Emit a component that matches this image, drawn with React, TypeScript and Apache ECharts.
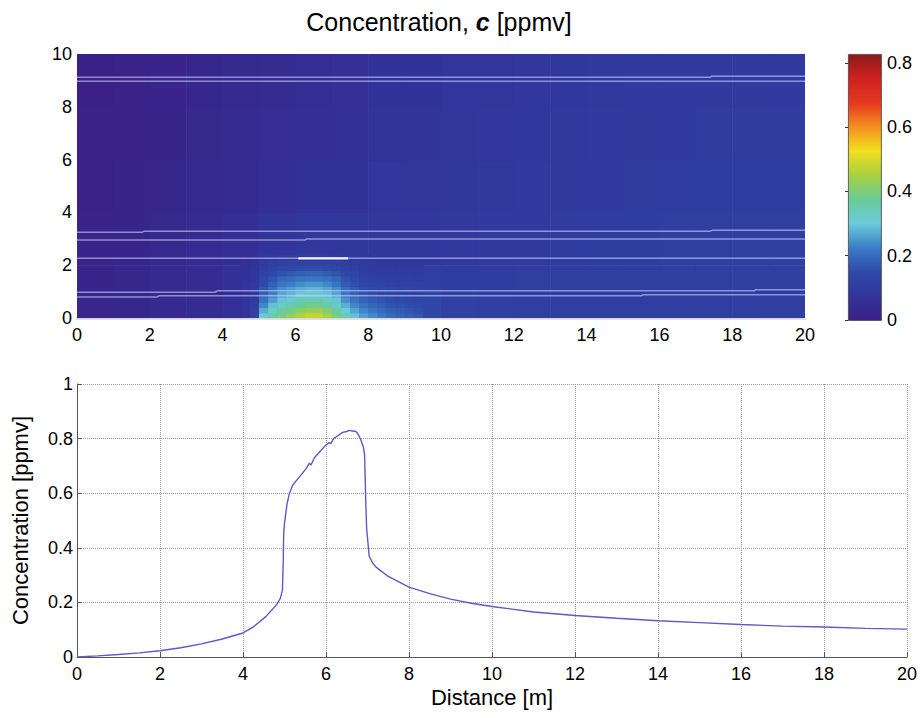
import React, { useEffect, useRef } from "react";
import * as echarts from "echarts";

const FONT = "'Liberation Sans', Arial, Helvetica, sans-serif";

// jet-like colormap (evenly spaced from 0 to CMAX)
const CMAX = 0.828;
const colormap = [
  "#3a2086", "#32349a", "#2e4aa8", "#3a7cc6", "#6ccada", "#68cc98",
  "#a8d040", "#f0e020", "#f39020", "#e43820", "#d02020", "#8c1a1a",
];
const colorbarTicks = [0, 0.2, 0.4, 0.6, 0.8];

// Background field (coarse cells): x edges and y edges, values [row][col]
const bgXEdges = [0, 1, 2, 3, 4, 5, 6, 7, 8, 9, 10, 11, 12, 13, 14, 15, 16, 17, 18, 19, 20];
const bgYEdges = [0, 1, 2, 4, 6, 8, 10];
const bgValues = [
  [0.022, 0.027, 0.034, 0.045, 0.065, 0.09, 0.1, 0.1, 0.1, 0.14, 0.12, 0.112, 0.11, 0.11, 0.11, 0.11, 0.11, 0.11, 0.11, 0.11],
  [0.02, 0.025, 0.032, 0.043, 0.062, 0.08, 0.09, 0.09, 0.1, 0.108, 0.105, 0.105, 0.108, 0.108, 0.11, 0.11, 0.11, 0.11, 0.11, 0.11],
  [0.015, 0.02, 0.03, 0.042, 0.055, 0.075, 0.085, 0.088, 0.088, 0.09, 0.093, 0.097, 0.1, 0.103, 0.105, 0.107, 0.108, 0.108, 0.11, 0.11],
  [0.01, 0.015, 0.025, 0.035, 0.045, 0.058, 0.066, 0.073, 0.078, 0.083, 0.088, 0.092, 0.095, 0.098, 0.1, 0.102, 0.104, 0.105, 0.106, 0.107],
  [0.006, 0.012, 0.02, 0.03, 0.04, 0.05, 0.058, 0.065, 0.07, 0.076, 0.082, 0.087, 0.09, 0.093, 0.096, 0.098, 0.1, 0.101, 0.102, 0.103],
  [0.003, 0.008, 0.016, 0.026, 0.036, 0.046, 0.054, 0.061, 0.067, 0.072, 0.078, 0.083, 0.087, 0.09, 0.093, 0.095, 0.097, 0.098, 0.099, 0.1],
];

// Plume near the source (fine cells)
const plumeXEdges = [4.5, 4.75, 5, 5.25, 5.5, 5.75, 6, 6.25, 6.5, 6.75, 7, 7.25, 7.5, 7.75, 8, 8.25, 8.5, 8.75, 9, 9.25, 9.5];
const plumeYEdges = [0, 0.2, 0.4, 0.6, 0.8, 1.0, 1.2, 1.4, 1.6, 1.8, 2.0, 2.2, 2.4];
const plumeValues = [
  [0.07, 0.13, 0.3, 0.36, 0.4, 0.43, 0.46, 0.48, 0.48, 0.45, 0.4, 0.34, 0.29, 0.26, 0.24, 0.22, 0.2, 0.19, 0.18, 0.17],
  [0.07, 0.12, 0.27, 0.325, 0.363, 0.389, 0.416, 0.433, 0.433, 0.407, 0.363, 0.308, 0.264, 0.235, 0.218, 0.2, 0.184, 0.175, 0.167, 0.158],
  [0.07, 0.11, 0.237, 0.29, 0.326, 0.348, 0.371, 0.386, 0.386, 0.364, 0.326, 0.275, 0.238, 0.209, 0.195, 0.181, 0.167, 0.16, 0.153, 0.146],
  [0.07, 0.1, 0.21, 0.257, 0.295, 0.314, 0.334, 0.347, 0.347, 0.328, 0.295, 0.245, 0.214, 0.187, 0.176, 0.164, 0.153, 0.147, 0.141, 0.136],
  [0.07, 0.095, 0.187, 0.23, 0.267, 0.284, 0.301, 0.312, 0.312, 0.295, 0.267, 0.22, 0.194, 0.168, 0.159, 0.15, 0.141, 0.136, 0.131, 0.127],
  [0.07, 0.09, 0.168, 0.206, 0.242, 0.257, 0.271, 0.281, 0.281, 0.266, 0.242, 0.198, 0.176, 0.153, 0.144, 0.137, 0.13, 0.126, 0.122, 0.119],
  [0.07, 0.085, 0.151, 0.185, 0.217, 0.229, 0.242, 0.25, 0.25, 0.238, 0.217, 0.178, 0.16, 0.139, 0.131, 0.125, 0.12, 0.117, 0.114, 0.112],
  [0.068, 0.08, 0.136, 0.166, 0.192, 0.202, 0.212, 0.219, 0.219, 0.209, 0.192, 0.16, 0.146, 0.127, 0.12, 0.116, 0.112, 0.11, 0.108, 0.106],
  [0.066, 0.077, 0.122, 0.145, 0.166, 0.173, 0.181, 0.186, 0.186, 0.178, 0.166, 0.141, 0.13, 0.115, 0.109, 0.106, 0.103, 0.102, 0.101, 0.1],
  [0.064, 0.072, 0.11, 0.126, 0.142, 0.147, 0.153, 0.156, 0.156, 0.151, 0.142, 0.124, 0.116, 0.105, 0.1, 0.098, 0.097, 0.096, 0.095, 0.095],
  [0.062, 0.068, 0.098, 0.108, 0.118, 0.121, 0.125, 0.127, 0.127, 0.124, 0.118, 0.108, 0.103, 0.098, 0.095, 0.094, 0.093, 0.092, 0.092, 0.092],
  [0.058, 0.064, 0.085, 0.09, 0.095, 0.097, 0.099, 0.1, 0.1, 0.098, 0.095, 0.092, 0.09, 0.089, 0.089, 0.089, 0.089, 0.09, 0.09, 0.09],
];

// White sensor lines across the field: [x, y] points
const whiteLines = [
  [[0, 9.12], [17.4, 9.12], [17.45, 9.16], [20, 9.16]],
  [[0, 8.97], [20, 8.97]],
  [[0, 3.25], [1.8, 3.25], [1.85, 3.29], [17.4, 3.29], [17.45, 3.32], [20, 3.32]],
  [[0, 2.95], [6.26, 2.95], [6.3, 2.99], [20, 2.99]],
  [[0, 2.26], [20, 2.26]],
  [[0, 0.98], [3.8, 0.98], [3.85, 1.03], [18.6, 1.03], [18.65, 1.07], [20, 1.07]],
  [[0, 0.8], [2.2, 0.8], [2.25, 0.84], [15.5, 0.84], [15.55, 0.88], [20, 0.88]],
];
const brightSegment = [[6.08, 2.26], [7.45, 2.26]];

// Ground-level concentration profile
const distance = [
  0, 0.5, 1, 1.5, 2, 2.5, 3, 3.5, 4, 4.25, 4.55, 4.8, 4.9, 4.95, 4.97, 4.98, 5.0, 5.06, 5.12, 5.2,
  5.36, 5.52, 5.6, 5.64, 5.72, 5.84, 6.0, 6.08, 6.12, 6.18, 6.24, 6.4, 6.5, 6.56, 6.64, 6.72, 6.78,
  6.84, 6.9, 6.93, 6.96, 6.98, 7.04, 7.12, 7.2, 7.5, 8, 8.5, 9, 9.5, 10, 11, 12, 13, 14, 15, 16, 17, 18, 19, 20,
];
const concentration = [
  0, 0.004, 0.009, 0.015, 0.023, 0.034, 0.048, 0.066, 0.088, 0.11, 0.148, 0.19, 0.215, 0.245, 0.35, 0.45, 0.49, 0.56, 0.6, 0.63,
  0.66, 0.69, 0.71, 0.703, 0.73, 0.75, 0.777, 0.785, 0.782, 0.8, 0.806, 0.823, 0.826, 0.83, 0.828, 0.826, 0.815,
  0.795, 0.77, 0.74, 0.56, 0.47, 0.37, 0.345, 0.33, 0.295, 0.256, 0.232, 0.212, 0.197, 0.185, 0.165, 0.152, 0.142, 0.133, 0.126, 0.119, 0.113, 0.11, 0.105, 0.102,
];

function cellsFrom(xEdges: number[], yEdges: number[], values: number[][]) {
  const out: number[][] = [];
  for (let r = 0; r < values.length; r++) {
    for (let c = 0; c < values[r].length; c++) {
      out.push([xEdges[c], xEdges[c + 1], yEdges[r], yEdges[r + 1], values[r][c]]);
    }
  }
  return out;
}

export default function App() {
  const ref = useRef<HTMLDivElement>(null);
  useEffect(() => {
    if (!ref.current) return;
    const chart = echarts.init(ref.current, null, { renderer: "svg" });
    const cells = [
      ...cellsFrom(bgXEdges, bgYEdges, bgValues),
      ...cellsFrom(plumeXEdges, plumeYEdges, plumeValues),
    ];
    const labelStyle = { color: "#000", fontSize: 18, fontFamily: FONT };
    const nameStyle = { color: "#000", fontSize: 22, fontFamily: FONT };
    const cbStops = colormap.map((c, i) => ({ offset: i / (colormap.length - 1), color: c }));
    const fmt1 = (v: number) => String(Math.round(v * 10) / 10);

    const option: any = {
      animation: false,
      backgroundColor: "#fff",
      textStyle: { fontFamily: FONT },
      title: {
        text: "{a|Concentration, }{b|c}{a| [ppmv]}",
        left: 434,
        top: 4,
        textAlign: "center",
        textStyle: {
          fontWeight: "normal",
          rich: {
            a: { fontSize: 25, color: "#000", fontFamily: FONT, fontWeight: "normal" },
            b: { fontSize: 25, color: "#000", fontFamily: FONT, fontStyle: "italic", fontWeight: "bold" },
          },
        },
      },
      visualMap: {
        type: "continuous",
        show: false,
        min: 0,
        max: CMAX,
        dimension: 4,
        seriesIndex: 0,
        inRange: { color: colormap },
      },
      grid: [
        { left: 77, top: 54, width: 728, height: 264, containLabel: false },
        { left: 77, top: 384, width: 830, height: 273, containLabel: false },
        { left: 848, top: 54, width: 33, height: 266, containLabel: false },
      ],
      xAxis: [
        {
          gridIndex: 0, type: "value", min: 0, max: 20, interval: 2,
          axisLine: { show: true, lineStyle: { color: "#d8d8d8", width: 2.5 } },
          axisTick: { show: false },
          splitLine: { show: false },
          axisLabel: { ...labelStyle, margin: 8 },
        },
        {
          gridIndex: 1, type: "value", min: 0, max: 20, interval: 2,
          name: "Distance [m]", nameLocation: "middle", nameGap: 29,
          nameTextStyle: nameStyle,
          axisLine: { show: true, lineStyle: { color: "#555", width: 1 } },
          axisTick: { show: true, inside: true, length: 5, lineStyle: { color: "#555" } },
          splitLine: { show: true, lineStyle: { color: "#999", type: "dotted", width: 1 } },
          axisLabel: { ...labelStyle, margin: 8 },
        },
        {
          gridIndex: 2, type: "value", min: 0, max: 1, show: false,
        },
      ],
      yAxis: [
        {
          gridIndex: 0, type: "value", min: 0, max: 10, interval: 2,
          axisLine: { show: false },
          axisTick: { show: false },
          splitLine: { show: false },
          axisLabel: { ...labelStyle, margin: 5 },
        },
        {
          gridIndex: 1, type: "value", min: 0, max: 1, interval: 0.2,
          name: "Concentration [ppmv]", nameLocation: "middle", nameGap: 46,
          nameTextStyle: nameStyle,
          axisLine: { show: true, lineStyle: { color: "#555", width: 1 } },
          axisTick: { show: true, inside: true, length: 5, lineStyle: { color: "#555" } },
          splitLine: { show: true, lineStyle: { color: "#999", type: "dotted", width: 1 } },
          axisLabel: { ...labelStyle, margin: 4, formatter: fmt1 },
        },
        {
          gridIndex: 2, type: "value", min: 0, max: CMAX, interval: 0.2, position: "right",
          axisLine: { show: false },
          axisTick: { show: true, inside: true, length: 3, lineStyle: { color: "#333" } },
          splitLine: { show: false },
          axisLabel: {
            ...labelStyle, margin: 6,
            formatter: (v: number) => (colorbarTicks.includes(Math.round(v * 10) / 10) ? fmt1(v) : ""),
          },
        },
      ],
      series: [
        {
          type: "custom",
          xAxisIndex: 0,
          yAxisIndex: 0,
          clip: true,
          encode: { x: [0, 1], y: [2, 3] },
          data: cells,
          renderItem: (params: any, api: any) => {
            const p0 = api.coord([api.value(0), api.value(2)]);
            const p1 = api.coord([api.value(1), api.value(3)]);
            return {
              type: "rect",
              shape: { x: p0[0], y: p1[1], width: p1[0] - p0[0] + 0.6, height: p0[1] - p1[1] + 0.6 },
              style: { fill: api.visual("color") },
            };
          },
          silent: true,
        },
        ...whiteLines.map((pts) => ({
          type: "line",
          xAxisIndex: 0,
          yAxisIndex: 0,
          data: pts,
          showSymbol: false,
          silent: true,
          lineStyle: { color: "rgba(205,210,255,0.6)", width: 1.5 },
        })),
        {
          type: "line",
          xAxisIndex: 0,
          yAxisIndex: 0,
          data: brightSegment,
          showSymbol: false,
          silent: true,
          lineStyle: { color: "rgba(255,255,255,0.9)", width: 2.2 },
        },
        {
          type: "line",
          xAxisIndex: 1,
          yAxisIndex: 1,
          data: distance.map((d, i) => [d, concentration[i]]),
          showSymbol: false,
          silent: true,
          lineStyle: { color: "#5a5ac8", width: 1.4 },
        },
      ],
      graphic: [
        {
          type: "rect",
          left: 848,
          top: 54,
          z: -1,
          shape: { width: 33, height: 266 },
          style: {
            fill: new echarts.graphic.LinearGradient(0, 1, 0, 0, cbStops),
            stroke: "#444",
            lineWidth: 0.8,
          },
        },
      ],
    };
    chart.setOption(option);
    return () => chart.dispose();
  }, []);
  return (
    <div
      ref={ref}
      style={{ position: "fixed", left: 0, top: 0, width: 923, height: 718, background: "#fff" }}
    />
  );
}
